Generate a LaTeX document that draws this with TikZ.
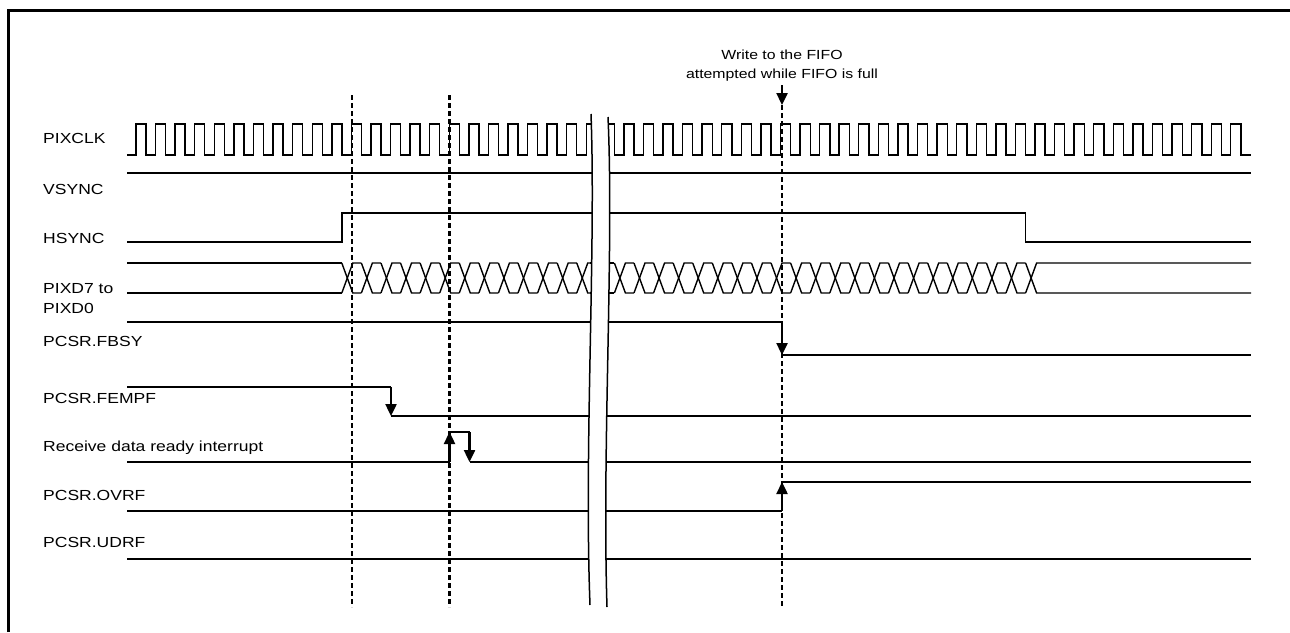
\documentclass[tikz,border=0pt]{standalone}
\usepackage{fontspec}
\setmainfont{Liberation Sans}
\usetikzlibrary{arrows.meta}
\newcommand{\hsx}[1]{\scalebox{1.2}[1]{#1}}
\begin{document}
\begin{tikzpicture}[x=1pt,y=-1pt,
  sig/.style={line width=1.4pt, line join=miter},
  guide/.style={line width=2.3pt, dash pattern=on 5pt off 3pt},
  evt/.style={line width=2.4pt, -{Triangle[width=11pt,length=12pt]}},
  lbl/.style={anchor=base west, inner sep=0pt, font=\fontsize{14.6}{16}\selectfont},
  note/.style={anchor=base, inner sep=0pt, font=\fontsize{13.2}{15}\selectfont},
  brk/.style={line width=1.5pt}]
\useasboundingbox (0,0) rectangle (1290,632);

% ---- PIXCLK ----
\draw[sig] (127,155)
  foreach \k in {0,...,22} { -- ({136+\k*19.58},155) -- ({136+\k*19.58},124) -- ({146+\k*19.58},124) -- ({146+\k*19.58},155) }
  -- (586.3,155) -- (586.3,124) -- (614.4,124) -- (614.4,155)
  foreach \j in {0,...,31} { -- ({623.8+\j*19.58},155) -- ({623.8+\j*19.58},124) -- ({634.0+\j*19.58},124) -- ({634.0+\j*19.58},155) }
  -- (1251,155);

% ---- VSYNC ----
\draw[sig] (127,173) -- (1251,173);

% ---- HSYNC ----
\draw[sig] (127,242) -- (341.8,242) -- (341.8,213) -- (1025.6,213) -- (1025.6,242) -- (1251,242);

% ---- PIXD ----
\draw[sig] (127,263) -- (341.8,263);
\draw[sig] (127,293) -- (341.8,293);
\foreach \k in {0,...,12} {
  \pgfmathsetmacro\xs{341.8+\k*19.58}
  \draw[sig] (\xs,263) -- ({\xs+11},293) -- ({\xs+19.58},293);
  \draw[sig] (\xs,293) -- ({\xs+11},263) -- ({\xs+19.58},263);
}
\draw[sig] (590,263) -- (614.4,263);
\draw[sig] (590,293) -- (614.4,293);
\foreach \m in {0,...,20} {
  \pgfmathsetmacro\xs{614.4+\m*19.58}
  \draw[sig] (\xs,263) -- ({\xs+11},293) -- ({\xs+19.58},293);
  \draw[sig] (\xs,293) -- ({\xs+11},263) -- ({\xs+19.58},263);
}
\draw[sig] (1025.6,263) -- (1036.6,293) -- (1251,293);
\draw[sig] (1025.6,293) -- (1036.6,263) -- (1251,263);

% ---- PCSR.FBSY ----
\coordinate (fbA) at (782,322);
\coordinate (fbB) at (782,355);
\draw[sig] (127,322) -- (fbA);
\draw[sig] (fbB) -- (1251,355);

% ---- PCSR.FEMPF ----
\coordinate (feA) at (391,387);
\coordinate (feB) at (391,416);
\draw[sig] (127,387) -- (feA);
\draw[sig] (feB) -- (1251,416);

% ---- Receive data ready interrupt ----
\coordinate (riA) at (449.5,462);
\coordinate (riB) at (449.5,432);
\coordinate (riC) at (469.5,432);
\coordinate (riD) at (469.5,462);
\draw[sig] (127,462) -- (riA);
\draw[sig] (riB) -- (riC);
\draw[sig] (riD) -- (1251,462);

% ---- PCSR.OVRF ----
\coordinate (ovA) at (782,511);
\coordinate (ovB) at (782,482);
\draw[sig] (127,511) -- (ovA);
\draw[sig] (ovB) -- (1251,482);

% ---- PCSR.UDRF ----
\draw[sig] (127,559) -- (1251,559);

% ---- break ----
\fill[white] (591,114) .. controls (596,250) and (584,450) .. (590,605) -- (607,607) .. controls (602,450) and (614,250) .. (608,117) -- cycle;
\draw[brk] (591,114) .. controls (596,250) and (584,450) .. (590,605);
\draw[brk] (608,117) .. controls (614,250) and (602,450) .. (607,607);

% ---- guides ----
\coordinate (g1t) at (352,95);   \coordinate (g1b) at (352,607);
\coordinate (g2t) at (449.5,95); \coordinate (g2b) at (449.5,607);
\coordinate (g3t) at (782,105);  \coordinate (g3b) at (782,607);
\draw[guide] (g1t) -- (g1b);
\draw[guide] (g2t) -- (g2b);
\draw[guide] (g3t) -- (g3b);

% ---- event arrows ----
\coordinate (wrA) at (782,85);
\draw[evt] (wrA) -- (g3t);
\draw[evt] (fbA) -- (fbB);
\draw[evt] (feA) -- (feB);
\draw[evt] (riA) -- (riB);
\draw[evt] (riC) -- (riD);
\draw[evt] (ovA) -- (ovB);

% ---- labels ----
\node[lbl] (lclk) at (43,143) {\hsx{PIXCLK}};
\node[lbl] (lvs) at (43,194) {\hsx{VSYNC}};
\node[lbl] (lhs) at (43,243) {\hsx{HSYNC}};
\node[lbl] (lpa) at (43,293) {\hsx{PIXD7 to}};
\node[lbl] (lpb) at (43,313) {\hsx{PIXD0}};
\node[lbl] (lfb) at (43,346) {\hsx{PCSR.FBSY}};
\node[lbl] (lfe) at (43,403) {\hsx{PCSR.FEMPF}};
\node[lbl] (lri) at (43,451) {\hsx{Receive data ready interrupt}};
\node[lbl] (lov) at (43,500) {\hsx{PCSR.OVRF}};
\node[lbl] (lud) at (43,547) {\hsx{PCSR.UDRF}};
\node[note] (n1) at (782,59) {\hsx{Write to the FIFO}};
\node[note] (n2) at (782,78) {\hsx{attempted while FIFO is full}};

% ---- frame ----
\draw[line width=3pt] (8.3,632) -- (8.3,10.7) -- (1290,10.7);
\end{tikzpicture}
\end{document}
